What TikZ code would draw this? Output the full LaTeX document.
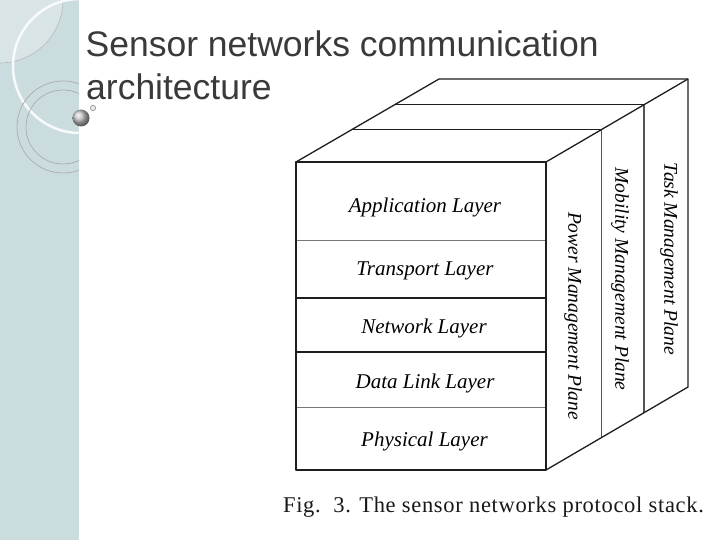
\documentclass[tikz,border=0pt]{standalone}
\usepackage{fontspec}
\setmainfont{Liberation Serif}
\newfontfamily\titlefont{Liberation Sans}
\usetikzlibrary{calc}
\definecolor{strip}{RGB}{203,220,223}
\definecolor{striplight}{RGB}{216,228,230}
\definecolor{titlegray}{RGB}{58,58,58}
\definecolor{edgecol}{RGB}{30,30,30}
\definecolor{sepcol}{RGB}{120,120,120}
\tikzset{
  cubeedge/.style={draw=edgecol, line width=1.3pt, line join=round},
  sepline/.style={draw=sepcol, line width=1pt},
  darksep/.style={draw=edgecol, line width=1.2pt},
  layertext/.style={font=\fontsize{21}{25}\selectfont\itshape, text=black, inner sep=0pt, anchor=base},
  planetext/.style={font=\fontsize{19.5}{23}\selectfont\itshape, text=black, inner sep=0pt, rotate=-90, anchor=center},
  titletext/.style={font=\titlefont\fontsize{35.5}{42}\selectfont, text=titlegray, inner sep=0pt, anchor=base west}
}
\begin{document}
\begin{tikzpicture}[x=1pt,y=-1pt]
\useasboundingbox (0,0) rectangle (720,540);
\fill[white] (0,0) rectangle (720,540);
% decorative left strip
\begin{scope}
  \clip (0,0) rectangle (79,540);
  \fill[strip] (0,0) rectangle (79,540);
  \fill[striplight] (0,0) circle (63pt);
  \draw[gray!55, line width=0.6pt] (0,0) circle (63pt);
  \draw[white, opacity=0.85, line width=2.5pt] (80,66) circle (67pt);
  \draw[gray!65, line width=0.7pt] (63,127) circle (46pt);
  \draw[gray!65, line width=0.7pt] (63,127) circle (37pt);
\end{scope}
\shade[ball color=gray!45] (81,118) circle (8.5pt);
\draw[gray!80, fill=gray!15, line width=0.8pt] (93,108) circle (2.6pt);
% title
\node[titletext] (title1) at (85.5,57) {Sensor networks communication};
\node[titletext] (title2) at (86,100) {architecture};
% cube corners
\coordinate (ftl) at (296,162);
\coordinate (ftr) at (546,162);
\coordinate (fbr) at (546,470);
\coordinate (fbl) at (296,470);
\coordinate (btl) at (439,79);
\coordinate (btr) at (688,79);
\coordinate (bbr) at (688,387);
% layer separators
\coordinate (s1l) at (296,240); \coordinate (s1r) at (546,240);
\coordinate (s2l) at (296,298); \coordinate (s2r) at (546,298);
\coordinate (s3l) at (296,352); \coordinate (s3r) at (546,352);
\coordinate (s4l) at (296,407); \coordinate (s4r) at (546,407);
\draw[sepline] (s1l) -- (s1r);
\draw[darksep] (s2l) -- (s2r);
\draw[darksep] (s3l) -- (s3r);
\draw[sepline] (s4l) -- (s4r);
% top face and side internal lines
\coordinate (tl1) at ($(ftl)!0.39!(btl)$);
\coordinate (tl2) at ($(ftl)!0.69!(btl)$);
\coordinate (tr1) at ($(ftr)!0.39!(btr)$);
\coordinate (tr2) at ($(ftr)!0.69!(btr)$);
\coordinate (br1) at ($(fbr)!0.39!(bbr)$);
\coordinate (br2) at ($(fbr)!0.69!(bbr)$);
\draw[cubeedge] (tl1) -- (tr1);
\draw[cubeedge] (tl2) -- (tr2);
\draw[draw=sepcol!70!black, line width=1.1pt] (tr1) -- (br1);
\draw[draw=sepcol!70!black, line width=1.1pt] (tr2) -- (br2);
% outline
\draw[cubeedge] (ftl) rectangle (fbr);
\draw[cubeedge] (ftl) -- (btl) -- (btr) -- (bbr) -- (fbr);
\draw[cubeedge] (ftr) -- (btr);
% layer labels
\node[layertext] (app) at (425,213) {Application Layer};
\node[layertext] (trans) at (425,275) {Transport Layer};
\node[layertext] (net) at (424,333) {Network Layer};
\node[layertext] (dll) at (425,388) {Data Link Layer};
\node[layertext] (phy) at (424.5,446) {Physical Layer};
% plane labels
\node[planetext] (power) at (573,316) {Power Management Plane};
\node[planetext] (mobil) at (620,279) {Mobility Management Plane};
\node[planetext] (task) at (669,259) {Task Management Plane};
% caption
\node[font=\fontsize{22.5}{26}\selectfont\addfontfeatures{LetterSpace=3}, text=black!90, inner sep=0pt, anchor=base] (caption) at (493.5,512) {Fig.~~3. The sensor networks protocol stack.};
\end{tikzpicture}
\end{document}
